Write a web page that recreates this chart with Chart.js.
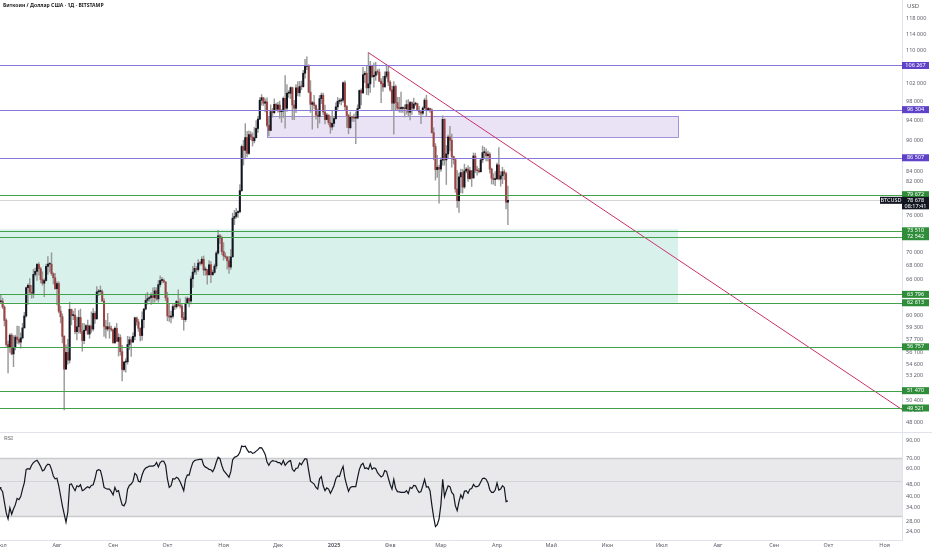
<!DOCTYPE html>
<html>
<head>
<meta charset="utf-8">
<script src="https://cdn.jsdelivr.net/npm/chart.js@4.4.1/dist/chart.umd.min.js"></script>
<style>
html, body { margin: 0; padding: 0; background: #fff; }
#wrap { position: relative; width: 932px; height: 550px; overflow: hidden; font-family: "Noto Sans", sans-serif; }
#price { position: absolute; left: 0; top: 0; }
#rsi { position: absolute; left: 0; top: 432px; }
.t { position: absolute; font-size: 6px; line-height: 7px; white-space: nowrap; }
#sep { position: absolute; left: 0; top: 432px; width: 932px; height: 1px; background: #e0e3eb; }
</style>
</head>
<body>
<div id="wrap">
  <canvas id="price" width="932" height="432"></canvas>
  <canvas id="rsi" width="932" height="118"></canvas>
  <div id="sep"></div>
  <div class="t" style="left:3px;top:2px;font-size:5.1px;font-weight:700;color:#222">Биткоин / Доллар США · 1Д · BITSTAMP</div>
  <div class="t" style="left:907px;top:3px;color:#555">USD</div>
  <div class="t" style="left:4px;top:435px;color:#666">RSI</div>
</div>
<script>
// day 0 = 30 Jun 2024, one candle per day up to 7 Apr 2025
const firstOpen = 60950;

const closes = [62750,
  62850,62030,60200,57050,56650,58250,55860,56700,58000,57700,57350,57900,59200,60800,64750,65100,64100,63950,66700,67150,68200,67550,65950,65400,65800,67900,68250,68250,66800,66200,64600,
  65350,61450,60700,58100,54000,56050,55100,61700,60850,60900,58700,59350,60600,58700,57550,58900,59500,58400,59450,59050,61150,60400,64150,64200,64200,62850,59400,59050,59350,59100,58950,
  57300,59150,57450,57950,56150,53950,54850,54900,57050,57650,57350,58100,60550,60000,59150,58200,60300,61750,62950,63200,63350,63600,63350,64300,63150,65200,65800,65850,65600,63300,
  60800,60650,60750,62100,62050,62800,62200,62150,60600,60300,62500,63200,62850,66050,67050,67600,67400,68400,68350,69000,67350,67400,66650,68150,66650,67000,67950,69950,72700,72300,70200,
  69500,69350,68750,67800,69350,75600,75900,76550,76700,80400,88700,87950,90500,87350,91100,90600,89850,90450,92350,94300,98350,98900,97700,98000,93000,91950,95900,95650,97450,96400,
  97300,95850,96000,98750,96600,99900,99900,101150,97300,96600,101100,100000,101400,101350,104450,106050,106150,100150,97450,97800,97200,95150,94850,98700,99450,95800,94200,95150,93550,92650,93400,
  94400,96900,98100,98200,98350,102250,96950,95050,92500,94700,94550,94500,94500,96550,100500,99950,104100,104450,101100,102000,106150,103650,103950,104800,104700,102600,102050,101300,103750,104750,102400,
  100650,97700,101400,97850,96600,96550,96550,96550,96500,97400,95750,97850,96600,97500,97600,96150,95800,95550,96650,98350,96150,96550,96250,91500,88700,84250,84700,84350,
  86050,94250,86100,87250,90600,89950,86750,86150,80700,78600,82900,83700,81050,84000,84350,82600,84050,82700,86850,84200,84050,83850,86100,87500,87500,86900,87200,84350,82650,82400,82550,
  85150,82500,83100,83850,83500,78350,78678];

const highs = [62900,
  63800,63250,62200,60450,57500,58450,58450,58200,58250,59450,59400,58550,59800,61300,64850,65350,66100,65100,67450,67650,68350,68500,67800,67100,66100,68250,69400,68300,70000,66950,66850,
  65650,65600,62150,61100,58200,57000,57700,62700,61750,61450,61800,60650,61550,61750,59800,59800,59650,60250,59600,61350,61800,61400,64900,64500,65000,64450,63200,60200,61150,59900,59450,
  59050,59350,59800,58450,58300,56950,54950,55300,58100,58050,58000,58550,60650,60650,60350,59200,61350,61800,63850,64100,63550,64000,64750,64800,64750,65800,66500,66250,66050,65600,
  64100,62400,61450,62450,62350,62950,64450,63200,62500,61300,63400,63450,63300,66450,67900,68400,67900,68950,68650,69400,69500,67800,67450,68800,68650,67350,68250,70250,73600,72950,72650,
  71600,70000,69400,69450,70550,76450,76950,77300,76900,81500,89000,89950,93350,91750,91850,91700,91450,92550,94000,94900,98950,99600,98800,98650,98850,94600,97350,96600,98650,97700,
  97900,98150,96350,99050,103900,101850,100500,101350,101250,98300,101850,102500,102550,102650,105150,107750,108350,106450,102750,98100,99450,97350,96400,99400,99950,99950,97300,95500,95200,94900,96150,
  94900,97800,98950,98700,98800,102450,102700,97250,95350,95800,94950,95350,95850,97350,100650,100850,105850,104900,106300,109350,107250,106350,106850,107050,105300,105450,103200,103750,104800,106450,106050,
  102750,101500,102500,101750,99000,99000,100150,96900,97350,98350,98500,98100,98000,98800,97950,97700,97000,96050,96900,98750,99450,96800,96650,96500,92500,89300,87000,85100,
  86500,95000,94400,88900,91000,92800,91200,86850,86450,84100,83600,84350,84300,85300,84650,85000,84700,84050,87450,87400,84850,84500,86200,88800,88550,88250,87800,87500,84550,83500,83900,
  85500,88500,83900,84700,84200,83750,81200];

const lows = [60630,
  62500,61800,59450,56800,53550,56050,55750,54300,56350,57200,57100,56600,57750,59250,60650,62400,63900,63250,63300,66450,65800,66600,65450,65100,63450,65750,66700,67050,66550,65300,64550,
  62300,61200,59850,57250,49300,54000,54600,54750,59600,60300,58400,57650,58500,58450,56200,57150,58800,58350,57850,58600,58800,59800,60350,63600,63800,62800,58100,57850,58800,57850,58750,
  57200,57150,57450,55600,55700,52600,53750,53650,54600,56400,55550,57350,57650,59550,58750,57500,57600,59200,61600,62400,62800,62400,62650,62700,62950,62700,64850,65450,65450,62900,
  60150,60050,59850,60500,61650,61850,62150,61850,60300,58900,60050,62450,62050,62450,64800,66700,66700,67150,68100,68100,66600,66550,65250,66550,65500,66550,66850,67550,69750,71450,69700,
  68850,69100,67500,66850,67450,69350,74500,75600,75750,76500,80250,85100,86300,86650,87150,90050,88800,89400,90800,91550,94150,97250,97200,95800,92650,90800,91850,94700,95400,96250,
  95750,94450,93600,94650,92400,95950,98950,98700,94200,94200,95650,99300,99200,100650,101250,103300,105300,100000,95700,92200,96450,94300,92450,93450,97600,95200,93300,94100,93100,91350,92050,
  92750,94250,96000,97550,97300,97900,96150,92550,91250,92250,93850,93750,89250,94350,96500,97350,99950,102300,99600,99500,100100,103400,101250,102800,104150,102500,97800,100300,101350,103300,101600,
  100300,96200,91200,96200,96200,95750,95700,95700,94750,95300,94900,94100,95300,96300,97200,96050,95250,93350,95200,96400,94850,96050,95700,91400,86100,82300,82800,78200,
  83900,85050,85100,81500,86350,87850,84700,85300,80100,77450,76600,80000,79950,80800,83650,82050,82450,81150,82650,83700,83200,83650,83800,85550,86300,85900,85850,83600,81600,81550,81300,
  82450,82350,81200,81650,82400,77200,74500];

const rsiValues = [46,
  44.6,43,36.8,31.6,29,34,31,33.4,35.5,39,38.3,40,44.6,49,59.4,60,59.4,63,65.5,66.7,67.7,65,61.9,58,59,62.3,64,63.5,59.4,53.9,
  51.8,52.2,46.8,40.5,35,31,27.6,32,47.7,48,45.7,43.6,46.8,46.2,47.5,43.6,44.2,45.4,46.2,45.4,47,47.5,51.8,58.3,59.1,58.5,52.7,45.7,45,44.6,
  44.6,43,41,45.7,43,43.6,39,35.5,35,36.8,44.6,47,48,50,56,54.7,50,49.5,54.7,58.5,60.5,61.3,62.3,62.3,62.3,63,65.5,61.5,65.5,67,
  66.7,63,51.8,45.7,46.8,51.8,51.6,53,52,49.6,46.6,43.6,51.4,54.8,54.6,60.5,65.5,67.4,68,68.3,68.7,68.7,63,61.3,60.5,59.4,59,57.4,60.5,66,70.7,
  69.3,63,58.5,56.6,54.8,53,57.4,68,70.7,71.4,72.8,76,83.2,82.5,83,79,76,76.8,74.8,75.5,77.3,79,81.4,81,77.7,73.7,66,63,66,
  67.4,67,66.7,65.5,65.5,63.5,67.4,63,65,66.7,67.4,59.4,57.7,60.2,60.5,65,63.5,66.7,69.3,68.7,58.3,50,49,48,45.7,44.6,51.8,53.5,46.8,43.6,45.4,
  44.6,42,44.2,47,51.8,53.9,53.5,58.3,61.9,52.2,47.3,43.2,45.7,46.2,46.2,46.2,52.7,59.4,63.3,64.9,60.2,60.7,59.4,64.2,59.4,60.7,60.2,56.6,54.8,53.2,
  54.2,58.3,57.7,52.2,47.7,44.6,51.4,45.2,43,42.8,42.5,42.5,42.5,43.6,41.8,45.7,45,47,46.8,44.2,42.5,43,46.8,51.4,46,46.2,43.6,35.5,
  29.7,25.9,26.6,29,35.5,51.4,40,43.6,46.8,46.2,42.5,41.2,35,32.7,37.2,41,39,43.2,43.6,42,44.6,45,47.7,46.2,46.2,47,49.5,52,52.2,51.4,48.8,
  44.2,42.5,42.5,44,48.8,44,44.6,46.8,45.7,37.2,37.6];

const monthTicks = [1, 32, 63, 93, 124, 154, 185, 216, 244, 275, 305, 336, 366, 397, 428, 458, 489];
const monthLabels = ['Июл','Авг','Сен','Окт','Ноя','Дек','2025','Фев','Мар','Апр','Май','Июн','Июл','Авг','Сен','Окт','Ноя'];
const priceTicks = [118000,114000,110000,102000,98000,94000,90000,84000,82000,76000,70000,68000,66000,60900,59300,57700,56100,54600,53200,50400,49200,48000];
const rsiTicks = [90, 70, 60, 48, 40, 34, 28, 24];

const purpleLevels = [106267, 96304, 86507];
const greenLevels = [79672, 73510, 72542, 63796, 62613, 56757, 51470, 49521];
const lastPrice = 78678;
const lastTime = '08:17:41';
const trendDays = [204, 499];
const trendPrices = [109350, 49300];
// [fromDay, toDay, lowPrice, highPrice]
const purpleZone = [148, 375, 90600, 94950];
const greenZone = [0, 375, 62613, 73760];

const xMin = 0.552, xMax = 498.62;
const FONT = '"Noto Sans", sans-serif';
const upColor = '#131722', downColor = '#9c4444', wickColor = '#9a9a9a';
const purple = '#8a78d6', purpleBox = '#5f42c8';
const green = '#43a04b', greenBox = '#2f8d3a';

function fmt(v) {
  return String(v).replace(/\B(?=(\d{3})+(?!\d))/g, ' ');
}

// open of each candle is the previous close
const opens = closes.map((c, i) => i === 0 ? firstOpen : closes[i - 1]);
const bodies = closes.map((c, i) => ({x: i, y: [Math.min(opens[i], c), Math.max(opens[i], c)]}));
const wicks = closes.map((c, i) => ({x: i, y: [Math.min(lows[i], opens[i], c), Math.max(highs[i], opens[i], c)]}));
const bodyColors = closes.map((c, i) => c >= opens[i] ? upColor : downColor);

function hline(ctx, area, yy, color, w) {
  const p = Math.round(yy) + 0.5;
  ctx.strokeStyle = color;
  ctx.lineWidth = w;
  ctx.beginPath();
  ctx.moveTo(area.left, p);
  ctx.lineTo(area.right, p);
  ctx.stroke();
}

function box(ctx, x, yy, w, h, bg, lines) {
  ctx.fillStyle = bg;
  ctx.fillRect(x, yy, w, h);
  ctx.fillStyle = '#fff';
  ctx.font = '5.5px ' + FONT;
  ctx.textAlign = 'center';
  ctx.textBaseline = 'middle';
  lines.forEach((t, k) => ctx.fillText(t, x + w / 2, yy + 3.6 + k * 5.6));
}

// no extra room around the plot: the plot must fill the canvas exactly
function noPad(s) {
  s.paddingTop = 0; s.paddingBottom = 0; s.paddingLeft = 0; s.paddingRight = 0;
}

const pricePlugin = {
  id: 'priceLevels',
  beforeDatasetsDraw(chart) {
    const {ctx, chartArea: a, scales: {x, y}} = chart;
    ctx.save();
    ctx.beginPath();
    ctx.rect(a.left, a.top, a.right - a.left, a.bottom - a.top);
    ctx.clip();
    // zones
    [[purpleZone, 'rgba(126,87,194,0.17)', purple], [greenZone, 'rgba(46,184,150,0.19)', null]].forEach(([z, fill, edge]) => {
      const x0 = x.getPixelForValue(z[0]), x1 = x.getPixelForValue(z[1]);
      const y0 = y.getPixelForValue(z[3]), y1 = y.getPixelForValue(z[2]);
      ctx.fillStyle = fill;
      ctx.fillRect(x0, y0, x1 - x0, y1 - y0);
      if (edge) {
        ctx.strokeStyle = edge;
        ctx.lineWidth = 0.8;
        ctx.strokeRect(Math.round(x0) + 0.5, Math.round(y0) + 0.5, x1 - x0, Math.round(y1 - y0));
      }
    });
    hline(ctx, a, y.getPixelForValue(lastPrice), '#c9cbd1', 0.8);
    ctx.restore();
  },
  afterDatasetsDraw(chart) {
    const {ctx, chartArea: a, scales: {y}} = chart;
    ctx.save();
    purpleLevels.forEach(v => hline(ctx, a, y.getPixelForValue(v), purple, 1));
    greenLevels.forEach(v => hline(ctx, a, y.getPixelForValue(v), green, 1));
    ctx.restore();
  },
  afterDraw(chart) {
    const {ctx, chartArea: a, scales: {y}} = chart;
    ctx.save();
    purpleLevels.forEach(v => box(ctx, a.right, y.getPixelForValue(v) - 3.5, 27, 7, purpleBox, [fmt(v)]));
    greenLevels.forEach(v => box(ctx, a.right, y.getPixelForValue(v) - 3.5, 27, 7, greenBox, [fmt(v)]));
    const yp = y.getPixelForValue(lastPrice);
    box(ctx, a.right - 22, yp - 3.5, 22, 7, '#131722', ['BTCUSD']);
    box(ctx, a.right, yp - 3.5, 27, 12.5, '#131722', [fmt(lastPrice), lastTime]);
    ctx.restore();
  }
};

new Chart(document.getElementById('price'), {
  type: 'bar',
  data: {
    datasets: [
      {type: 'bar', data: wicks, backgroundColor: wickColor, barThickness: 0.8, grouped: false, order: 2},
      {type: 'bar', data: bodies, backgroundColor: bodyColors, barThickness: 1.4, grouped: false, minBarLength: 1, order: 1},
      {type: 'line', data: trendDays.map((d, k) => ({x: d, y: trendPrices[k]})), borderColor: '#cc2f6a', borderWidth: 1,
       pointRadius: 0, pointHoverRadius: 0, clip: false, order: 0}
    ]
  },
  options: {
    responsive: false,
    animation: false,
    layout: {padding: 0, autoPadding: false},
    plugins: {legend: {display: false}, tooltip: {enabled: false}},
    scales: {
      x: {type: 'linear', min: xMin, max: xMax, bounds: 'data', offset: false, display: false},
      y: {
        type: 'logarithmic', position: 'right', min: 46940, max: 122970, bounds: 'data',
        grid: {display: false, drawTicks: false},
        border: {display: true, color: '#e0e3eb'},
        afterBuildTicks: s => { s.ticks = priceTicks.map(v => ({value: v})); },
        afterFit: s => { s.width = 30; noPad(s); },
        ticks: {autoSkip: false, padding: 4, color: '#5d606b', font: {family: FONT, size: 5.5},
                callback: v => fmt(v)}
      }
    }
  },
  plugins: [pricePlugin]
});

const rsiPlugin = {
  id: 'rsiBands',
  beforeDatasetsDraw(chart) {
    const {ctx, chartArea: a, scales: {y}} = chart;
    ctx.save();
    const yTop = y.getPixelForValue(70), yBot = y.getPixelForValue(30);
    ctx.fillStyle = '#e9e9eb';
    ctx.fillRect(a.left, yTop, a.right - a.left, yBot - yTop);
    hline(ctx, a, yTop, '#cbccd0', 1.4);
    hline(ctx, a, yBot, '#cbccd0', 1.4);
    hline(ctx, a, y.getPixelForValue(50), '#d3d4d8', 1);
    ctx.restore();
  }
};

new Chart(document.getElementById('rsi'), {
  type: 'line',
  data: {
    datasets: [{data: rsiValues.map((v, i) => ({x: i, y: v})), borderColor: '#131722', borderWidth: 1.2,
                pointRadius: 0, pointHoverRadius: 0, tension: 0}]
  },
  options: {
    responsive: false,
    animation: false,
    layout: {padding: 0, autoPadding: false},
    plugins: {legend: {display: false}, tooltip: {enabled: false}},
    scales: {
      x: {
        type: 'linear', min: xMin, max: xMax, bounds: 'data', offset: false,
        grid: {display: false, drawTicks: false},
        border: {display: true, color: '#e0e3eb'},
        afterBuildTicks: s => { s.ticks = monthTicks.map(v => ({value: v})); },
        afterFit: s => { s.height = 10; noPad(s); },
        ticks: {
          autoSkip: false, maxRotation: 0, padding: 2, color: '#5d606b',
          font: c => ({family: FONT, size: 5.5, weight: (c.tick && c.tick.value === 185) ? 'bold' : 'normal'}),
          callback: v => monthLabels[monthTicks.indexOf(v)]
        }
      },
      y: {
        type: 'logarithmic', position: 'right', min: 21.34, max: 102, bounds: 'data',
        grid: {display: false, drawTicks: false},
        border: {display: true, color: '#e0e3eb'},
        afterBuildTicks: s => { s.ticks = rsiTicks.map(v => ({value: v})); },
        afterFit: s => { s.width = 30; noPad(s); },
        ticks: {autoSkip: false, padding: 4, color: '#5d606b', font: {family: FONT, size: 5.5},
                callback: v => v.toFixed(2).replace('.', ',')}
      }
    }
  },
  plugins: [rsiPlugin]
});
</script>
</body>
</html>
